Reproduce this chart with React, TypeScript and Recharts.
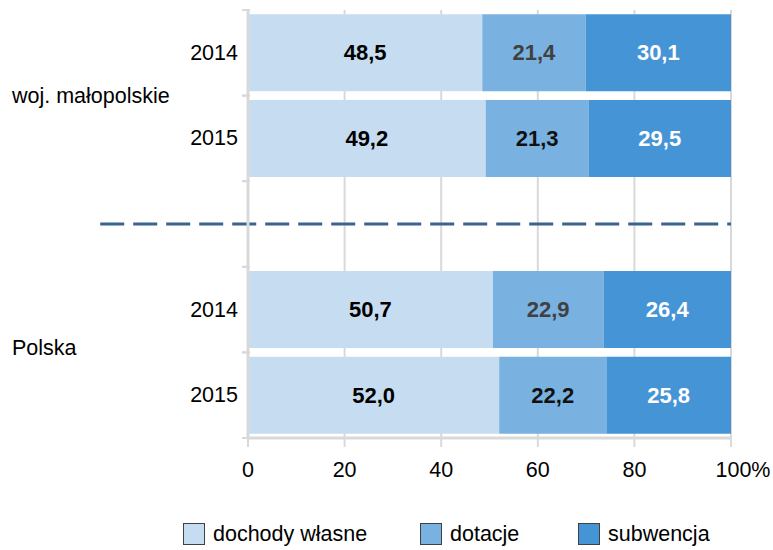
import React from 'react';
import { BarChart, Bar, XAxis, YAxis, CartesianGrid, LabelList, ReferenceLine } from 'recharts';

const rowKeys = ['w2014', 'w2015', 'gap', 'p2014', 'p2015'];
const yearLabels = ['2014', '2015', '', '2014', '2015'];
const groupLabels = ['woj. małopolskie', '', '', 'Polska', ''];
const dochodyWlasne = [48.5, 49.2, null, 50.7, 52.0];
const dotacje = [21.4, 21.3, null, 22.9, 22.2];
const subwencja = [30.1, 29.5, null, 26.4, 25.8];
const xTicks = [0, 20, 40, 60, 80, 100];
const seriesNames = ['dochody własne', 'dotacje', 'subwencja'];

const colors = ['#c6ddf1', '#79b2e0', '#4594d6'];
const dotacjeLabelColors = ['#404040', '#111111', '#000', '#404040', '#111111'];

const data = rowKeys.map((k, i) => ({
  key: k,
  year: yearLabels[i],
  group: groupLabels[i],
  dw: dochodyWlasne[i],
  dot: dotacje[i],
  sub: subwencja[i],
}));

const FONT = '"Liberation Sans", Arial, sans-serif';
const FS = 21.5;
const fmt = (v: number) => v.toFixed(1).replace('.', ',');

const HALF_BAND = 42.8;

const YTick = (props: any) => {
  const { x, y, payload } = props;
  const idx = rowKeys.indexOf(payload.value);
  const row = data[idx];
  return (
    <g>
      <line x1={x + 2} x2={x + 10} y1={y - HALF_BAND} y2={y - HALF_BAND} stroke="#d9d9d9" strokeWidth={2} />
      <line x1={x + 2} x2={x + 10} y1={y + HALF_BAND} y2={y + HALF_BAND} stroke="#d9d9d9" strokeWidth={2} />
      {row && row.year ? (
        <text x={x - 2} y={y} textAnchor="end" dominantBaseline="central" fontSize={FS} fontFamily={FONT} fill="#000">
          {row.year}
        </text>
      ) : null}
      {row && row.group ? (
        <text x={12} y={y + (idx === 0 ? 43 : 38)} textAnchor="start" dominantBaseline="central" fontSize={FS} fontFamily={FONT} fill="#000">
          {row.group}
        </text>
      ) : null}
    </g>
  );
};

const XTick = (props: any) => {
  const { x, y, payload } = props;
  const v = Number(payload.value);
  const isLast = v === 100;
  return (
    <text
      x={x + (isLast ? 12 : 0)}
      y={y}
      dy="0.71em"
      textAnchor="middle"
      fontSize={FS}
      fontFamily={FONT}
      fill="#000"
    >
      {isLast ? '100%' : String(v)}
    </text>
  );
};

const makeLabel = (colorFor: (v: number) => string) => (props: any) => {
  const { x, y, width, height, value } = props;
  if (value === null || value === undefined) return null;
  return (
    <text
      x={x + width / 2}
      y={y + height / 2}
      textAnchor="middle"
      dominantBaseline="central"
      fontSize={22}
      fontWeight="bold"
      fontFamily={FONT}
      fill={colorFor(Number(value))}
    >
      {fmt(Number(value))}
    </text>
  );
};

const legendLefts = [183, 420, 578];

export default function App() {
  return (
    <div style={{ position: 'absolute', left: 0, top: 0, width: 773, height: 550, background: '#fff', fontFamily: FONT }}>
      <BarChart
        width={773}
        height={550}
        data={data}
        layout="vertical"
        margin={{ top: 10, right: 42, bottom: 72, left: 0 }}
        barCategoryGap="5%"
      >
        <CartesianGrid horizontal={false} vertical={true} stroke="#d9d9d9" strokeWidth={2} />
        <XAxis
          type="number"
          domain={[0, 100]}
          ticks={xTicks}
          interval={0}
          height={40}
          axisLine={{ stroke: '#d9d9d9', strokeWidth: 3 }}
          tickLine={{ stroke: '#d9d9d9', strokeWidth: 2 }}
          tickSize={9}
          tickMargin={15}
          tick={<XTick />}
        />
        <YAxis
          type="category"
          dataKey="key"
          width={248}
          axisLine={{ stroke: '#d9d9d9', strokeWidth: 3 }}
          tickLine={false}
          tick={<YTick />}
          interval={0}
        />
        <Bar dataKey="dw" stackId="a" fill={colors[0]} isAnimationActive={false} name={seriesNames[0]}>
          <LabelList dataKey="dw" content={makeLabel(() => '#000')} />
        </Bar>
        <Bar dataKey="dot" stackId="a" fill={colors[1]} isAnimationActive={false} name={seriesNames[1]}>
          <LabelList
            dataKey="dot"
            content={makeLabel((v) => dotacjeLabelColors[dotacje.indexOf(v)] || '#000')}
          />
        </Bar>
        <Bar dataKey="sub" stackId="a" fill={colors[2]} isAnimationActive={false} name={seriesNames[2]}>
          <LabelList dataKey="sub" content={makeLabel(() => '#fff')} />
        </Bar>
        <ReferenceLine
          segment={[{ x: -30.6, y: 'gap' }, { x: 100, y: 'gap' }]}
          stroke="#3b6291"
          strokeWidth={3}
          strokeDasharray="24 9"
          ifOverflow="visible"
        />
      </BarChart>
      {seriesNames.map((name, i) => (
        <div
          key={name}
          style={{ position: 'absolute', left: legendLefts[i], top: 522, height: 24, display: 'flex', alignItems: 'center' }}
        >
          <div style={{ width: 20, height: 20, background: colors[i], border: '1px solid #404040', marginRight: 8 }} />
          <span style={{ fontSize: FS, color: '#000', fontFamily: FONT }}>{name}</span>
        </div>
      ))}
    </div>
  );
}
